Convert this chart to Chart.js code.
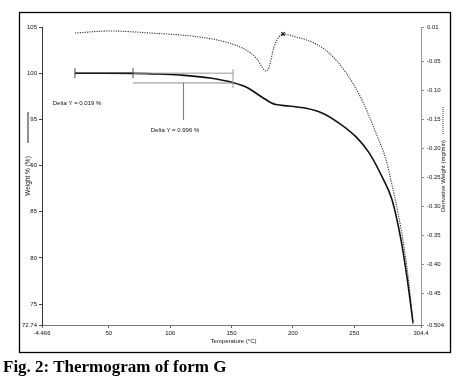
<!DOCTYPE html>
<html>
<head>
<meta charset="utf-8">
<script src="https://cdn.jsdelivr.net/npm/chart.js@4/dist/chart.umd.min.js"></script>
<style>
  html, body { margin: 0; padding: 0; background: #fff; }
  #wrap { position: relative; width: 459px; height: 386px; }
  #chart { position: absolute; left: 0; top: 0; }
  #caption {
    position: absolute; left: 3px; top: 357px;
    font: bold 17px "Liberation Serif", "Times New Roman", serif;
    color: #000; white-space: nowrap;
  }
</style>
</head>
<body>
<div id="wrap">
  <canvas id="chart" width="459" height="386"></canvas>
  <div id="caption">Fig. 2: Thermogram of form G</div>
</div>
<script>
// Weight % curve (solid, left axis)
const weightTemp = [22.4, 45, 69.7, 90, 108, 132.5, 151.2, 161.8, 174.9, 182.2, 186.2, 196.8, 210.7, 223.7, 237.6, 251.5, 262.0, 272.6, 280.8, 288.1, 293.0, 297.9];
const weightPct  = [100.0, 100.0, 99.98, 99.92, 99.8, 99.48, 98.98, 98.5, 97.4, 96.8, 96.6, 96.45, 96.2, 95.7, 94.6, 93.1, 91.4, 88.8, 86.3, 81.95, 77.9, 73.0];

// Derivative weight curve (dotted, right axis)
const derivTemp = [22.4, 51, 83.6, 124.3, 148, 161.8, 170, 174.9, 178.1, 180.6, 184.6, 188.7, 192, 202.6, 215.6, 229.5, 243.3, 256.3, 267.7, 275.9, 280.8, 285.7, 290.6, 294.7, 297.9];
const derivVal  = [-0.0004, 0.0031, -0.0004, -0.0073, -0.0176, -0.0297, -0.0435, -0.059, -0.066, -0.059, -0.0245, -0.0073, -0.002, -0.0073, -0.0159, -0.0349, -0.069, -0.116, -0.173, -0.219, -0.263, -0.311, -0.370, -0.435, -0.504];

// peak marker on the derivative curve
const peakTemp = [192];
const peakVal = [-0.002];

// axis ticks
const xTickValues = [-4.466, 50, 100, 150, 200, 250, 304.4];
const xTickLabels = ['-4.466', '50', '100', '150', '200', '250', '304.4'];
const yTickValues = [105, 100, 95, 90, 85, 80, 75, 72.74];
const yTickLabels = ['105', '100', '95', '90', '85', '80', '75', '72.74'];
const y1TickValues = [0.01, -0.05, -0.10, -0.15, -0.20, -0.25, -0.30, -0.35, -0.40, -0.45, -0.504];
const y1TickLabels = ['0.01', '-0.05', '-0.10', '-0.15', '-0.20', '-0.25', '-0.30', '-0.35', '-0.40', '-0.45', '-0.504'];

// Delta Y annotations (data coordinates)
const deltaTemps = [22.4, 69.7, 151.2];      // start, middle, end of the marked steps
const deltaLevels = [100.0, 98.94];          // upper and lower horizontal lines
const deltaPointer = [110.9, 94.93];         // pointer x and bottom y
const deltaLabels = ['Delta Y = 0.019 %', 'Delta Y = 0.996 %'];
const deltaLabelPos = [[24.1, 96.77], [103.9, 93.85]];

const tickFont = { family: 'Liberation Sans, Arial, sans-serif', size: 6 };

const pairs = (xs, ys) => xs.map((x, i) => ({ x: x, y: ys[i] }));

const decorPlugin = {
    id: 'decor',
    afterDatasetsDraw(chart) {
        const ctx = chart.ctx;
        const x = chart.scales.x, y = chart.scales.y;
        const px = v => x.getPixelForValue(v);
        const py = v => y.getPixelForValue(v);
        ctx.save();
        ctx.lineWidth = 1;

        // upper line: dark part then grey part
        ctx.strokeStyle = '#222';
        ctx.beginPath();
        ctx.moveTo(px(deltaTemps[0]), py(deltaLevels[0]));
        ctx.lineTo(px(deltaTemps[1]), py(deltaLevels[0]));
        ctx.stroke();
        ctx.strokeStyle = '#999';
        ctx.beginPath();
        ctx.moveTo(px(deltaTemps[1]), py(deltaLevels[0]));
        ctx.lineTo(px(deltaTemps[2]), py(deltaLevels[0]));
        ctx.stroke();
        // lower line
        ctx.strokeStyle = '#888';
        ctx.beginPath();
        ctx.moveTo(px(deltaTemps[1]), py(deltaLevels[1]));
        ctx.lineTo(px(deltaTemps[2]), py(deltaLevels[1]));
        ctx.stroke();
        // end ticks
        ctx.strokeStyle = '#444';
        [deltaTemps[0], deltaTemps[1]].forEach(t => {
            ctx.beginPath();
            ctx.moveTo(px(t), py(deltaLevels[0]) - 5);
            ctx.lineTo(px(t), py(deltaLevels[0]) + 5);
            ctx.stroke();
        });
        ctx.strokeStyle = '#999';
        ctx.beginPath();
        ctx.moveTo(px(deltaTemps[2]), py(deltaLevels[0]) - 4);
        ctx.lineTo(px(deltaTemps[2]), py(deltaLevels[1]) + 5);
        ctx.stroke();
        // pointer
        ctx.strokeStyle = '#777';
        ctx.beginPath();
        ctx.moveTo(px(deltaPointer[0]), py(deltaLevels[1]));
        ctx.lineTo(px(deltaPointer[0]), py(deltaPointer[1]));
        ctx.stroke();

        // labels
        ctx.fillStyle = '#111';
        ctx.font = '6px "Liberation Sans", Arial, sans-serif';
        ctx.textAlign = 'center';
        ctx.textBaseline = 'middle';
        deltaLabels.forEach((txt, i) => {
            ctx.fillText(txt, px(deltaLabelPos[i][0]), py(deltaLabelPos[i][1]));
        });
        ctx.restore();
    },
    afterDraw(chart) {
        const ctx = chart.ctx;
        const area = chart.chartArea;
        const mid = (area.top + area.bottom) / 2;
        ctx.save();
        // outer frame
        ctx.strokeStyle = '#000';
        ctx.lineWidth = 1.3;
        ctx.strokeRect(19.5, 12.5, 431, 340);

        ctx.fillStyle = '#111';
        ctx.textAlign = 'center';
        ctx.textBaseline = 'middle';

        // x title
        ctx.font = '6px "Liberation Sans", Arial, sans-serif';
        ctx.fillText('Temperature (\u00B0C)', (area.left + area.right) / 2 + 2, 341);

        // left title with solid legend line
        ctx.save();
        ctx.translate(28, mid);
        ctx.rotate(-Math.PI / 2);
        ctx.font = '6.5px "Liberation Sans", Arial, sans-serif';
        ctx.fillText('Weight % (%)', 0, 0);
        ctx.restore();
        ctx.strokeStyle = '#222';
        ctx.lineWidth = 1;
        ctx.beginPath();
        ctx.moveTo(28, mid - 64);
        ctx.lineTo(28, mid - 33);
        ctx.stroke();

        // right title with dotted legend line
        ctx.save();
        ctx.translate(443, mid);
        ctx.rotate(-Math.PI / 2);
        ctx.font = '6px "Liberation Sans", Arial, sans-serif';
        ctx.fillText('Derivative Weight (mg/min)', 0, 0);
        ctx.restore();
        ctx.strokeStyle = '#333';
        ctx.setLineDash([1, 1]);
        ctx.beginPath();
        ctx.moveTo(443, mid - 69);
        ctx.lineTo(443, mid - 41);
        ctx.stroke();
        ctx.restore();
    }
};

function fixedTicks(values) {
    return scale => { scale.ticks = values.map(v => ({ value: v })); };
}

new Chart(document.getElementById('chart'), {
    type: 'line',
    data: {
        datasets: [{
            label: 'Weight %',
            data: pairs(weightTemp, weightPct),
            yAxisID: 'y',
            borderColor: '#111',
            borderWidth: 1.6,
            pointRadius: 0,
            cubicInterpolationMode: 'monotone',
            fill: false
        }, {
            label: 'Derivative Weight',
            data: pairs(derivTemp, derivVal),
            yAxisID: 'y1',
            borderColor: '#333',
            borderWidth: 1.1,
            borderDash: [1.2, 1.2],
            pointRadius: 0,
            cubicInterpolationMode: 'monotone',
            fill: false
        }, {
            label: 'Peak',
            data: pairs(peakTemp, peakVal),
            yAxisID: 'y1',
            showLine: false,
            pointStyle: 'crossRot',
            pointRadius: 2.5,
            pointBorderWidth: 1.2,
            pointBorderColor: '#111'
        }]
    },
    options: {
        responsive: false,
        animation: false,
        layout: { padding: { top: 27, left: 0, right: 0, bottom: 0 } },
        plugins: {
            legend: { display: false },
            tooltip: { enabled: false }
        },
        scales: {
            x: {
                type: 'linear',
                min: -4.466,
                max: 304.4,
                afterBuildTicks: fixedTicks(xTickValues),
                afterFit: s => { s.height = 61; },
                ticks: {
                    autoSkip: false,
                    maxRotation: 0,
                    padding: 2,
                    color: '#111',
                    font: tickFont,
                    callback: (v, i) => xTickLabels[i]
                },
                grid: { drawOnChartArea: false, tickLength: 3, color: '#666' },
                border: { color: '#777', width: 1 }
            },
            y: {
                type: 'linear',
                position: 'left',
                min: 72.74,
                max: 105,
                afterBuildTicks: fixedTicks(yTickValues),
                afterFit: s => { s.width = 42; },
                ticks: {
                    autoSkip: false,
                    padding: 2,
                    color: '#111',
                    font: tickFont,
                    callback: (v, i) => yTickLabels[i]
                },
                grid: { drawOnChartArea: false, tickLength: 3, color: '#444' },
                border: { color: '#333', width: 1 }
            },
            y1: {
                type: 'linear',
                position: 'right',
                min: -0.504,
                max: 0.01,
                afterBuildTicks: fixedTicks(y1TickValues),
                afterFit: s => { s.width = 38; },
                ticks: {
                    autoSkip: false,
                    padding: 3,
                    color: '#111',
                    font: tickFont,
                    callback: (v, i) => y1TickLabels[i]
                },
                grid: { drawOnChartArea: false, tickLength: 3, color: '#888' },
                border: { color: '#999', width: 1 }
            }
        }
    },
    plugins: [decorPlugin]
});
</script>
</body>
</html>
